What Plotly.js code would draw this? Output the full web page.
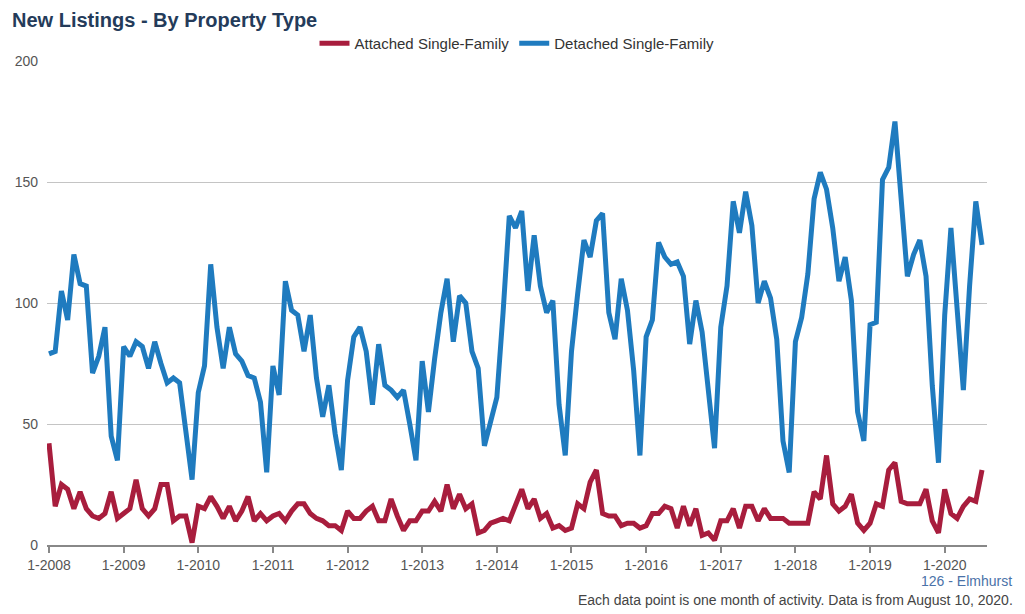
<!DOCTYPE html>
<html>
<head>
<meta charset="utf-8">
<script src="https://cdn.plot.ly/plotly-3.0.1.min.js"></script>
<style>
html,body{margin:0;padding:0;background:#fff;}
#chart{width:1025px;height:614px;}
</style>
</head>
<body>
<div id="chart"></div>
<script>
// Monthly values, 1-2008 .. 7-2020
const startYear = 2008;
const detached = [
  79,80,105,93,120,108,107,71,78,90,45,35,
  82,78,84,82,73,84,75,67,69,67,47,27,
  63,74,116,90,73,90,79,76,70,69,59,30,
  74,62,109,97,95,80,95,69,53,66,46,31,
  68,86,90,80,58,83,66,64,61,64,50,35,
  76,55,77,96,110,84,103,100,80,73,41,51,
  61,96,136,131,138,105,128,107,96,101,58,37,
  80,104,126,119,134,137,96,85,110,97,72,37,
  86,93,125,119,116,117,111,83,101,88,65,40,
  90,107,142,129,146,132,100,109,102,85,43,30,
  84,94,112,143,154,147,131,109,119,101,55,43,
  91,92,151,156,175,145,111,120,126,111,66,34,
  95,131,100,64,107,142,124
];
const attached = [
  42,16,25,23,15,22,15,12,11,13,22,11,
  13,15,27,15,12,15,25,25,10,12,12,1,
  16,15,20,16,11,16,10,14,20,10,13,10,
  12,13,10,14,17,17,13,11,10,8,8,6,
  14,11,11,14,16,10,10,19,12,6,10,10,
  14,14,18,14,25,15,21,15,17,5,6,9,
  10,11,10,17,23,15,19,11,13,7,8,6,
  7,17,15,26,31,13,12,12,8,9,9,7,
  8,13,13,16,15,7,16,8,15,4,5,2,
  10,10,15,7,16,16,10,15,11,11,11,9,
  9,9,9,22,19,37,17,14,16,21,9,6,
  9,17,16,31,34,18,17,17,17,23,10,5,
  23,13,11,16,19,18,31
];
const months = detached.map((_, i) => ((i % 12) + 1) + '-' + (startYear + Math.floor(i / 12)));
const tickLabels = months.filter((m) => m.startsWith('1-'));
const yTicks = [0, 50, 100, 150, 200];

const font = 'Arial, "Liberation Sans", sans-serif';

const traces = [
  {
    x: months, y: attached, type: 'scatter', mode: 'lines',
    name: 'Attached Single-Family',
    line: {color: '#a81d3d', width: 5}
  },
  {
    x: months, y: detached, type: 'scatter', mode: 'lines',
    name: 'Detached Single-Family',
    line: {color: '#1f7bbf', width: 5}
  }
];

const layout = {
  width: 1025, height: 614,
  margin: {l: 47, r: 38, t: 61, b: 69},
  paper_bgcolor: '#fff', plot_bgcolor: '#fff',
  font: {family: font, size: 14, color: '#555'},
  title: {
    text: '<b>New Listings - By Property Type</b>',
    x: 12 / 1025, xref: 'container', xanchor: 'left',
    y: 1 - 20 / 614, yref: 'container', yanchor: 'middle',
    font: {family: font, size: 20, color: '#243b5a'}
  },
  showlegend: true,
  legend: {
    orientation: 'h', x: 0.5, xanchor: 'center', y: 1.036, yanchor: 'middle',
    font: {family: font, size: 15, color: '#333'},
    itemwidth: 30, traceorder: 'normal', bgcolor: 'rgba(0,0,0,0)'
  },
  xaxis: {
    type: 'category',
    range: [-0.32, 150.8],
    tickmode: 'array', tickvals: tickLabels, ticktext: tickLabels,
    ticks: 'outside', ticklen: 6, tickwidth: 2, tickcolor: '#888',
    showline: true, linecolor: '#888', linewidth: 2,
    showgrid: false, zeroline: false,
    tickfont: {family: font, size: 14, color: '#555'}
  },
  yaxis: {
    range: [0, 200],
    tickmode: 'array', tickvals: yTicks,
    showgrid: true, gridcolor: '#c4c4c4', gridwidth: 1,
    zeroline: false, showline: false, ticks: '',
    ticklabelstandoff: 8,
    tickfont: {family: font, size: 14, color: '#555'}
  },
  annotations: [
    {
      text: '126 - Elmhurst', xref: 'paper', yref: 'paper',
      x: 1.029, y: -0.074, xanchor: 'right', yanchor: 'middle', showarrow: false,
      font: {family: font, size: 14, color: '#4a72a8'}
    },
    {
      text: 'Each data point is one month of activity. Data is from August 10, 2020.',
      xref: 'paper', yref: 'paper',
      x: 1.030, y: -0.113, xanchor: 'right', yanchor: 'middle', showarrow: false,
      font: {family: font, size: 14, color: '#444'}
    }
  ]
};

Plotly.newPlot('chart', traces, layout, {displayModeBar: false, responsive: false});
</script>
</body>
</html>
